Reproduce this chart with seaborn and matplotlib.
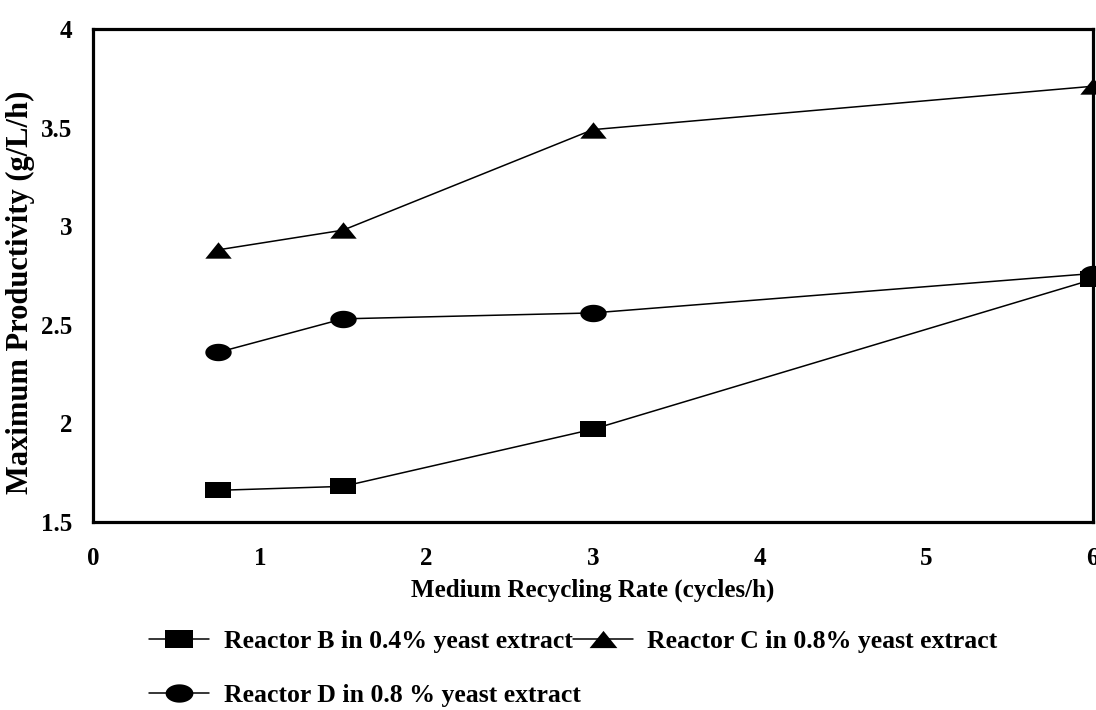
import numpy as np
import pandas as pd
import matplotlib
matplotlib.use("Agg")
import matplotlib.pyplot as plt
from matplotlib.lines import Line2D
import seaborn as sns

# Medium recycling rates (cycles/h)
rates = [0.75, 1.5, 3.0, 6.0]

# Maximum productivity (g/L/h) per reactor
reactor_b = [1.66, 1.68, 1.97, 2.73]
reactor_c = [2.88, 2.98, 3.49, 3.71]
reactor_d = [2.36, 2.53, 2.56, 2.76]

series_labels = [
    "Reactor B in 0.4% yeast extract",
    "Reactor C in 0.8% yeast extract",
    "Reactor D in 0.8 % yeast extract",
]

x_ticks = [0, 1, 2, 3, 4, 5, 6]
y_ticks = [1.5, 2, 2.5, 3, 3.5, 4]

df = pd.DataFrame({
    "rate": rates * 3,
    "prod": reactor_b + reactor_c + reactor_d,
    "series": [series_labels[0]] * 4 + [series_labels[1]] * 4 + [series_labels[2]] * 4,
})

sns.set_theme(style="white")
plt.rcParams["font.family"] = ["Liberation Serif", "DejaVu Serif"]
plt.rcParams["font.weight"] = "bold"
plt.rcParams["text.color"] = "black"
plt.rcParams["axes.labelcolor"] = "black"
plt.rcParams["axes.labelweight"] = "bold"

# wide, flat marker shapes
sq = [(-1, -0.62), (1, -0.62), (1, 0.62), (-1, 0.62), (-1, -0.62)]
tri = [(-1, -0.62), (1, -0.62), (0, 0.62), (-1, -0.62)]
theta = np.linspace(0, 2 * np.pi, 60)
ell = [(np.cos(t), 0.66 * np.sin(t)) for t in theta]
markers = {series_labels[0]: sq, series_labels[1]: tri, series_labels[2]: ell}

fig = plt.figure(figsize=(10.96, 7.10), dpi=100)
ax = fig.add_axes([0.085, 0.265, 0.912, 0.694])

for lab in series_labels:
    sub = df[df["series"] == lab]
    sns.lineplot(data=sub, x="rate", y="prod", ax=ax, color="black",
                 linewidth=1.1, marker=markers[lab], markersize=19,
                 markeredgewidth=0, markerfacecolor="black",
                 legend=False, clip_on=False, zorder=3)

ax.set_xlim(0, 6)
ax.set_ylim(1.5, 4)
ax.set_xticks(x_ticks)
ax.set_xticklabels([str(v) for v in x_ticks])
ax.set_yticks(y_ticks)
ax.set_yticklabels([f"{v:g}" for v in y_ticks])
ax.tick_params(axis="both", length=0, labelsize=18, colors="black")
ax.tick_params(axis="x", pad=18)
ax.tick_params(axis="y", pad=15)
for lbl in ax.get_xticklabels() + ax.get_yticklabels():
    lbl.set_fontweight("bold")
for s in ax.spines.values():
    s.set_visible(True)
    s.set_color("black")
    s.set_linewidth(2.3)

ax.set_xlabel("Medium Recycling Rate (cycles/h)", fontsize=18, fontweight="bold",
              labelpad=6, color="black")
ax.set_ylabel("Maximum Productivity (g/L/h)", fontsize=22, fontweight="bold",
              color="black")
ax.yaxis.set_label_coords(-0.058, 0.465)

# legend entries: B and C on the first row, D on the second
order = [0, 2, 1]
handles = [Line2D([], [], color="black", linewidth=1.1,
                  marker=markers[series_labels[i]], markersize=20,
                  markeredgewidth=0, markerfacecolor="black") for i in order]
leg = fig.legend(handles, [series_labels[i] for i in order],
                 loc="upper left", bbox_to_anchor=(0.136, 0.113), ncol=2,
                 frameon=False, handlelength=2.35, handletextpad=0.55,
                 columnspacing=-0.3, labelspacing=1.2, borderpad=0, borderaxespad=0,
                 prop={"family": ["Liberation Serif"], "weight": "bold", "size": 18.5})
for t in leg.get_texts():
    t.set_color("black")

fig.savefig("out.png", dpi=100)
